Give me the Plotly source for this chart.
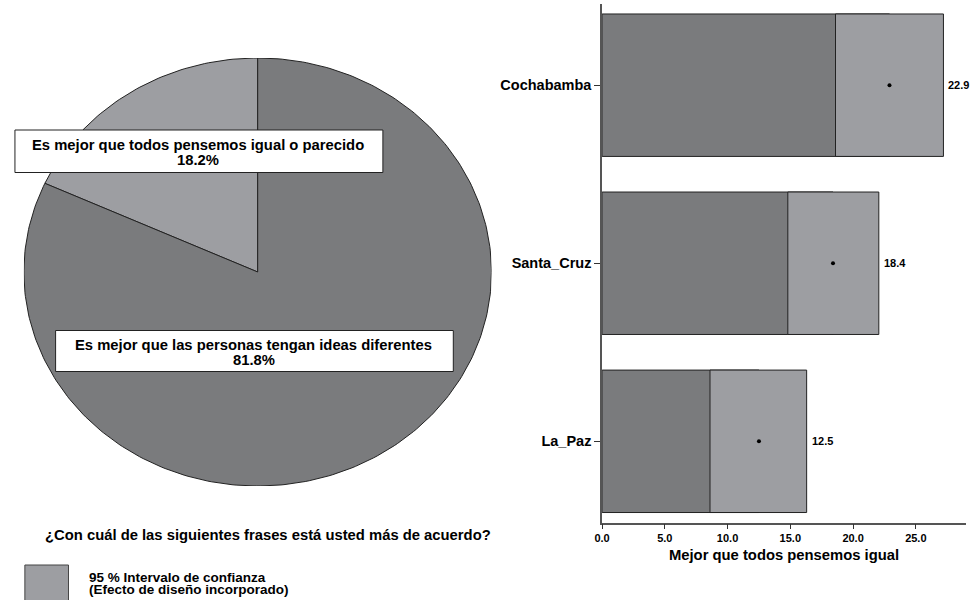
import math

import plotly.graph_objects as go

# pie data
pie_labels = [
    "Es mejor que todos pensemos igual o parecido",
    "Es mejor que las personas tengan ideas diferentes",
]
pie_shares = [18.2, 81.8]

# bar data (mean and 95% CI)
regions = ["La_Paz", "Santa_Cruz", "Cochabamba"]
means = [12.5, 18.4, 22.9]
ci_low = [8.6, 14.8, 18.6]
ci_high = [16.3, 22.05, 27.2]
x_ticks = [0, 5, 10, 15, 20, 25]

W, H = 971, 600
DARK = "#7a7b7d"
LIGHT = "#9d9ea2"
EDGE = "#222222"
FONT = "Liberation Sans, Arial, sans-serif"


def px(x):
    return x / W


def py(y):
    return 1 - y / H


fig = go.Figure()

# ---- pie drawn as an ellipse on its own axes ----
slice_colors = [LIGHT, DARK]
start = 90.0
for label, share, color in zip(pie_labels, pie_shares, slice_colors):
    span = 360.0 * share / 100.0
    n = max(int(span), 2)
    angles = [math.radians(start + span * i / n) for i in range(n + 1)]
    xs = [0] + [math.cos(a) for a in angles] + [0]
    ys = [0] + [math.sin(a) for a in angles] + [0]
    fig.add_trace(
        go.Scatter(
            x=xs, y=ys, mode="lines", fill="toself", fillcolor=color,
            line={"color": EDGE, "width": 1}, xaxis="x2", yaxis="y2",
            hoverinfo="skip", showlegend=False,
        )
    )
    start += span

# ---- bars ----
fig.add_trace(
    go.Bar(
        y=regions, x=means, orientation="h", width=0.8,
        marker={"color": DARK, "line": {"color": EDGE, "width": 1}},
        showlegend=False, hoverinfo="skip",
    )
)
fig.add_trace(
    go.Bar(
        y=regions, x=[h - l for l, h in zip(ci_low, ci_high)], base=ci_low,
        orientation="h", width=0.8,
        marker={"color": LIGHT, "line": {"color": EDGE, "width": 1}},
        showlegend=False, hoverinfo="skip",
    )
)
fig.add_trace(
    go.Scatter(
        y=regions, x=means, mode="markers",
        marker={"color": "black", "size": 4},
        showlegend=False, hoverinfo="skip",
    )
)
for r, m, h in zip(regions, means, ci_high):
    fig.add_annotation(
        x=h, y=r, text=f"{m:.1f}", showarrow=False, xanchor="left", xshift=3,
        font={"family": FONT, "size": 11, "color": "black", "weight": "bold"},
    )

bold = {"family": FONT, "color": "black", "weight": "bold"}

# ---- pie label boxes ----
boxes = [
    (7, 130, 378, 172.5, 191.5, 145.5, 160, 0),
    (48, 330.5, 449, 371.5, 248, 345, 359.5, 1),
]
for x0, y0, x1, y1, cx, ly1, ly2, i in boxes:
    fig.add_shape(
        type="rect", xref="paper", yref="paper",
        x0=px(x0), x1=px(x1), y0=py(y1), y1=py(y0),
        fillcolor="white", line={"color": EDGE, "width": 1}, layer="above",
    )
    fig.add_annotation(
        xref="paper", yref="paper", x=px(cx), y=py(ly1), text=pie_labels[i],
        showarrow=False, xanchor="center", yanchor="middle", font={**bold, "size": 14.8},
    )
    fig.add_annotation(
        xref="paper", yref="paper", x=px(cx), y=py(ly2), text=f"{pie_shares[i]:.1f}%",
        showarrow=False, xanchor="center", yanchor="middle", font={**bold, "size": 14.8},
    )

# question and legend
fig.add_annotation(
    xref="paper", yref="paper", x=px(262), y=py(535),
    text="¿Con cuál de las siguientes frases está usted más de acuerdo?",
    showarrow=False, xanchor="center", yanchor="middle", font={**bold, "size": 14.8},
)
fig.add_shape(
    type="rect", xref="paper", yref="paper",
    x0=px(17), x1=px(61), y0=py(610), y1=py(565),
    fillcolor=LIGHT, line={"color": "#444444", "width": 1},
)
fig.add_annotation(
    xref="paper", yref="paper", x=px(80), y=py(577.5),
    text="95 % Intervalo de confianza", showarrow=False,
    xanchor="left", yanchor="middle", font={**bold, "size": 13.5},
)
fig.add_annotation(
    xref="paper", yref="paper", x=px(80), y=py(589),
    text="(Efecto de diseño incorporado)", showarrow=False,
    xanchor="left", yanchor="middle", font={**bold, "size": 13.5},
)

fig.update_layout(
    width=W, height=H,
    margin={"l": 0, "r": 0, "t": 0, "b": 0},
    paper_bgcolor="white", plot_bgcolor="white",
    barmode="overlay",
    font={"family": FONT, "color": "black"},
    xaxis={
        "domain": [px(599), px(966)], "range": [0, 29],
        "tickvals": x_ticks, "ticktext": [f"{v:.1f}" for v in x_ticks],
        "ticks": "outside", "ticklen": 5, "tickcolor": "#333",
        "showline": True, "linecolor": "#555", "linewidth": 1.5,
        "showgrid": False, "zeroline": False,
        "tickfont": {**bold, "size": 11},
        "title": {"text": "Mejor que todos pensemos igual", "font": {**bold, "size": 14.8}, "standoff": 6},
    },
    yaxis={
        "domain": [py(522.5), py(4)], "range": [-0.456, 2.456],
        "categoryorder": "array", "categoryarray": regions,
        "ticks": "outside", "ticklen": 6, "tickcolor": "#333",
        "showline": True, "linecolor": "#555", "linewidth": 1.5,
        "showgrid": False, "zeroline": False,
        "tickfont": {**bold, "size": 14.5},
    },
    xaxis2={
        "domain": [px(16), px(487.5)], "range": [-1, 1], "anchor": "y2",
        "visible": False, "fixedrange": True,
    },
    yaxis2={
        "domain": [py(486), py(58)], "range": [-1, 1], "anchor": "x2",
        "visible": False, "fixedrange": True,
    },
)

fig.write_html(
    "out.html",
    config={"displayModeBar": False},
    post_script="document.body.style.margin='0px';",
)
